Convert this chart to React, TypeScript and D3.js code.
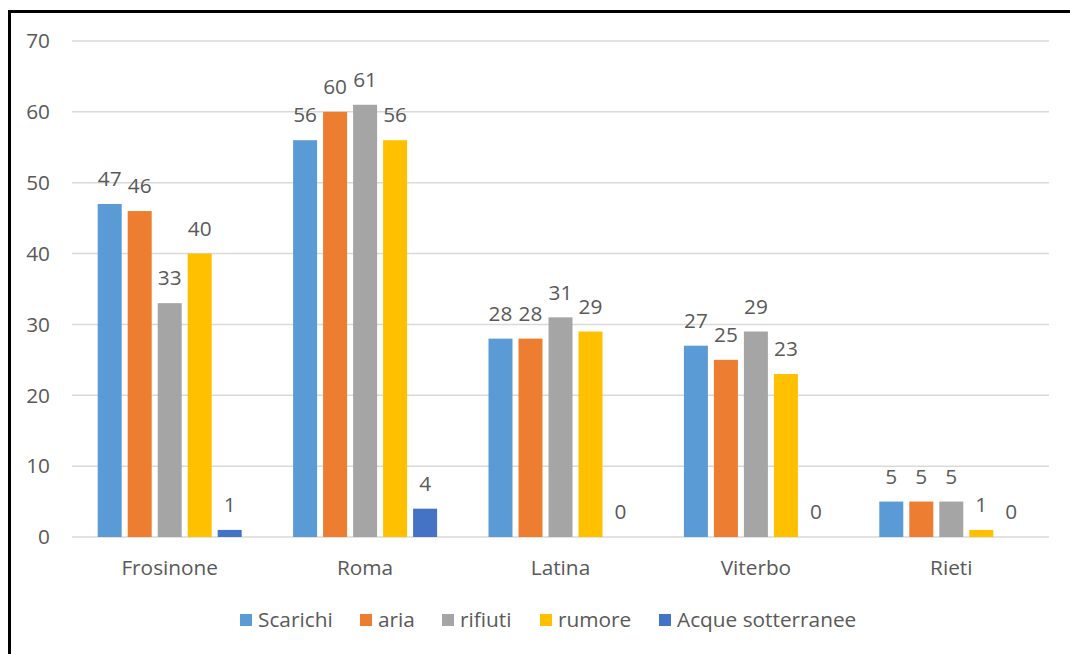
import React from "react";
import * as d3 from "d3";

const categories = ["Frosinone", "Roma", "Latina", "Viterbo", "Rieti"];
const seriesNames = ["Scarichi", "aria", "rifiuti", "rumore", "Acque sotterranee"];
const scarichi = [47, 56, 28, 27, 5];
const aria = [46, 60, 28, 25, 5];
const rifiuti = [33, 61, 31, 29, 5];
const rumore = [40, 56, 29, 23, 1];
const acque = [1, 4, 0, 0, 0];
const seriesValues = [scarichi, aria, rifiuti, rumore, acque];
const colors = ["#5B9BD5", "#ED7D31", "#A5A5A5", "#FFC000", "#4472C4"];
const yTicks = [0, 10, 20, 30, 40, 50, 60, 70];

const W = 1070;
const H = 654;
const left = 72;
const right = 1049;
const top = 41;
const bottom = 537;
const font = "'Open Sans', 'Noto Sans', sans-serif";
const textColor = "#595959";
const fs = 20.8;

export default function App() {
  const x = d3.scaleBand<string>().domain(categories).range([left, right]);
  const y = d3.scaleLinear().domain([0, 70]).range([bottom, top]);
  const groupW = 144;
  const inner = d3
    .scaleBand<number>()
    .domain(d3.range(seriesNames.length))
    .range([0, groupW])
    .paddingInner(0.2);

  const legendX = [240, 360, 442, 540, 659];

  return (
    <svg
      width={W}
      height={H}
      style={{ position: "absolute", left: 0, top: 0, background: "#fff" }}
      fontFamily={font}
    >
      <rect x={0} y={0} width={W} height={H} fill="#fff" />
      <rect x={9.5} y={11.5} width={W + 20} height={H + 20} fill="none" stroke="#000" strokeWidth={3} />
      {yTicks.map((t) => (
        <g key={t}>
          <line x1={left} x2={right} y1={y(t)} y2={y(t)} stroke="#D9D9D9" strokeWidth={1.5} />
          <text x={50} y={y(t)} dy="0.35em" textAnchor="end" fontSize={fs} fill={textColor}>
            {t}
          </text>
        </g>
      ))}
      {categories.map((c, ci) => {
        const cx = (x(c) as number) + x.bandwidth() / 2;
        const gx = cx - groupW / 2;
        return (
          <g key={c}>
            {seriesValues.map((vals, si) => {
              const v = vals[ci];
              const bx = gx + (inner(si) as number);
              return (
                <g key={si}>
                  <rect
                    x={bx}
                    y={y(v)}
                    width={inner.bandwidth()}
                    height={bottom - y(v)}
                    fill={colors[si]}
                  />
                  <text
                    x={bx + inner.bandwidth() / 2}
                    y={y(v) - 25}
                    dy="0.35em"
                    textAnchor="middle"
                    fontSize={fs}
                    fill={textColor}
                  >
                    {v}
                  </text>
                </g>
              );
            })}
            <text x={cx} y={568} dy="0.35em" textAnchor="middle" fontSize={fs} fill={textColor}>
              {c}
            </text>
          </g>
        );
      })}
      {seriesNames.map((s, i) => (
        <g key={s}>
          <rect x={legendX[i]} y={614} width={12} height={12} fill={colors[i]} />
          <text x={legendX[i] + 18} y={620} dy="0.35em" fontSize={fs} fill={textColor}>
            {s}
          </text>
        </g>
      ))}
    </svg>
  );
}
